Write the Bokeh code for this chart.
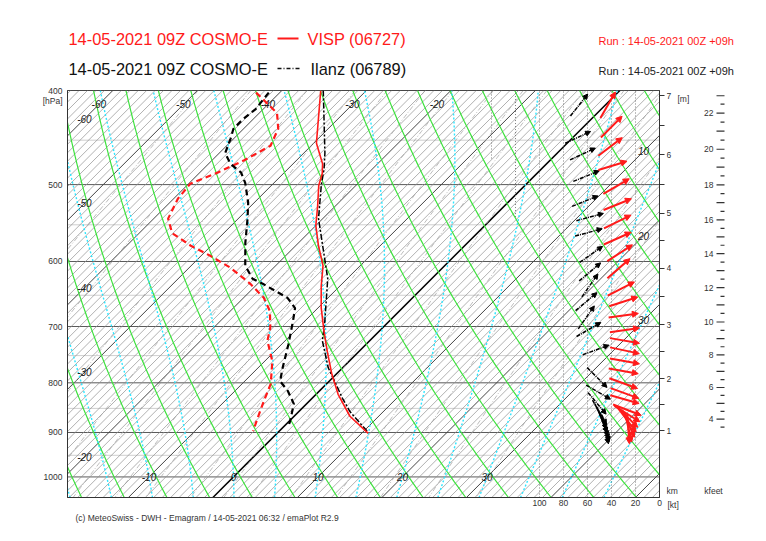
import numpy as np
from bokeh.plotting import figure
from bokeh.models import (Range1d, FixedTicker, CustomJSTickFormatter, LinearAxis,
                          Arrow, NormalHead, ColumnDataSource, Title)
from bokeh.layouts import column, row
from bokeh.embed import file_html
from bokeh.resources import INLINE
from bokeh.core.properties import value

FONT = "Liberation Sans"

# ---------------- data ----------------
p_major = [400, 500, 600, 700, 800, 900, 1000]
p_minor = [450, 550, 650, 750, 850, 950, 1050]

visp_t_p = [400, 428, 453, 458, 476, 487, 501, 526, 551, 578, 606, 636, 670, 707, 742, 784, 822, 866, 902]
visp_t = [-35.4, -32.3, -29.7, -29.0, -26.5, -25.4, -24.4, -22.1, -20.0, -17.3, -14.4, -12.2, -9.6, -6.6,
          -3.8, -0.5, 2.6, 6.6, 10.8]
visp_td_p = [402, 422, 438, 456, 472, 486, 499, 517, 542, 561, 578, 592, 609, 625, 633, 654, 675, 702, 724,
             760, 802, 835, 870, 897]
visp_td = [-42.8, -37.9, -35.9, -34.8, -36.2, -37.9, -39.8, -39.5, -38.3, -36.1, -32.4, -28.9, -25.1, -22.2,
           -20.8, -17.6, -15.3, -13.3, -12.1, -9.1, -6.6, -5.4, -4.1, -3.1]

ilanz_t_p = [400, 464, 481, 501, 542, 574, 625, 696, 724, 772, 802, 830, 856, 882, 897]
ilanz_t = [-35.1, -27.5, -25.8, -24.1, -20.5, -17.2, -12.3, -7.3, -5.6, -1.7, 1.1, 3.6, 6.0, 8.8, 10.4]
ilanz_td_p = [402, 418, 428, 438, 448, 464, 476, 486, 498, 522, 542, 574, 606, 625, 633, 654, 670, 691, 730,
              774, 797, 816, 841, 876, 887]
ilanz_td = [-41.3, -40.9, -41.2, -41.2, -40.4, -39.3, -37.4, -35.1, -33.4, -30.7, -28.9, -26.3, -23.6, -21.2,
            -19.3, -14.8, -12.7, -11.4, -9.2, -7.0, -5.8, -3.7, -1.5, 0.1, 0.5]

# winds: pressure (hPa), speed (kt), direction (deg, from)
visp_w_p = [414, 436, 457, 478, 502, 524, 546, 568, 588, 610, 640, 660, 682, 706, 724, 741, 760, 778, 801,
            820, 832, 853, 861, 867, 874, 881, 889, 892]
visp_w_spd = [43, 40, 41, 39, 36, 35, 35, 35, 33, 34, 32, 30, 30, 29, 29, 29, 29, 30, 30, 29, 29, 27, 27, 27,
              27, 26, 26, 26]
visp_w_dir = [210, 225, 233, 253, 240, 248, 244, 246, 237, 229, 243, 252, 262, 262, 280, 282, 280, 280, 290,
              290, 286, 291, 302, 315, 323, 336, 347, 356]

ilanz_w_p = [414, 447, 465, 490, 520, 540, 560, 590, 615, 635, 660, 685, 705, 740, 790, 818, 840, 858, 866,
             873, 880, 886, 891, 895]
ilanz_w_spd = [67, 68, 64, 61, 62, 58, 59, 57, 58, 58, 61, 61, 59, 53, 52, 51, 52, 50, 49, 48, 47, 46, 45, 45]
ilanz_w_dir = [218, 245, 245, 248, 248, 255, 255, 235, 230, 215, 230, 215, 240, 250, 315, 300, 320, 330, 335,
               338, 340, 342, 345, 348]

kt_ticks = [100, 80, 60, 40, 20, 0]
km_levels = [1, 2, 3, 4, 5, 6, 7]
km_pressure = [896, 792, 697, 610, 535, 466, 405]
kfeet_labels = [4, 6, 8, 10, 12, 14, 16, 18, 20, 22]

# ---------------- geometry ----------------
TOP_H = 84
W_MAIN, H_MAIN = 666, 457
ML, MR, MT, MB = 67, 7, 6, 44
FW = W_MAIN - ML - MR
FH = H_MAIN - MT - MB
P_TOP, P_BOT = 400.0, 1050.0
X_LEFT, X_RIGHT = -19.64, 50.41
PX_X = FW / (X_RIGHT - X_LEFT)
PX_LN = FH / np.log(P_BOT / P_TOP)
K = PX_LN / PX_X
KT_PX = 1.2
FRAME_TOP_PX = TOP_H + MT
P0_THETA = 1013.25


def skx(T, p):
    return np.asarray(T, float) + K * np.log(1000.0 / np.asarray(p, float))


def kt_x(k):
    return X_RIGHT - np.asarray(k, float) * KT_PX / PX_X


def lnp_at(ypx):
    # ln p at a page pixel row, on the main chart's vertical scale
    return np.log(P_TOP) + (ypx - FRAME_TOP_PX) / PX_LN


p = figure(width=W_MAIN, height=H_MAIN, x_range=Range1d(X_LEFT, X_RIGHT),
           y_range=Range1d(np.log(P_BOT), np.log(P_TOP)),
           min_border_left=ML, min_border_right=MR, min_border_top=MT, min_border_bottom=MB,
           output_backend="svg", toolbar_location=None)
p.grid.visible = False
p.outline_line_color = "#333333"
p.background_fill_color = "white"

pc = np.geomspace(P_TOP, P_BOT, 80)
lpc = list(np.log(pc))

# isobars
for pl, col in ((p_minor, "#cfcfcf"), (p_major, "#5a5a5a")):
    p.multi_line([[X_LEFT, X_RIGHT] for _ in pl], [[np.log(v), np.log(v)] for v in pl],
                 line_color=col, line_width=1)

# isotherms
pp = np.array([P_BOT, P_TOP])
iso_all = np.arange(-70, 56, 1)
groups = [([t for t in iso_all if t % 10 != 0], "#8f8f8f", 0.7),
          ([t for t in iso_all if t % 10 == 0 and t != 0], "#444444", 1.0),
          ([0], "#000000", 1.5)]
for Ts, col, lw in groups:
    p.multi_line([list(skx(t, pp)) for t in Ts], [list(np.log(pp)) for _ in Ts],
                 line_color=col, line_width=lw)

# mixing ratio lines
mix_w = [0.1, 0.2, 0.4, 0.7, 1, 1.5, 2, 3, 4, 5, 7, 10, 14, 20, 28]
mx, my = [], []
for w in mix_w:
    e = w * pc / (622.0 + w)
    a = np.log(e / 6.112)
    Td = 243.5 * a / (17.67 - a)
    mx.append(list(skx(Td, pc)))
    my.append(lpc)
p.multi_line(mx, my, line_color="#a0a0a0", line_width=0.7, line_dash="5 2 1 2")

# dry adiabats
dx_, dy_ = [], []
for th in range(245, 381, 5):
    T = th * (pc / P0_THETA) ** 0.2857 - 273.15
    dx_.append(list(skx(T, pc)))
    dy_.append(lpc)
p.multi_line(dx_, dy_, line_color="#3ee23e", line_width=1.2)


# moist adiabats
def f_moist(T, lnp):
    pr = np.exp(lnp)
    Tc = T - 273.15
    es = 6.112 * np.exp(17.67 * Tc / (Tc + 243.5))
    rs = 0.622 * es / (pr - es)
    return (287.04 * T + 2.501e6 * rs) / (1005.7 + 2.501e6 ** 2 * rs * 0.622 / (287.04 * T * T))


def moist(T0):
    parts = []
    for target, n in ((np.log(P_TOP), 150), (np.log(P_BOT), 12)):
        T = T0 + 273.15
        l = np.log(1000.0)
        h = (target - l) / n
        ls, Ts = [l], [T]
        for _ in range(n):
            k1 = f_moist(T, l)
            k2 = f_moist(T + 0.5 * h * k1, l + 0.5 * h)
            T = T + h * k2
            l = l + h
            ls.append(l)
            Ts.append(T)
        parts.append((np.array(ls), np.array(Ts) - 273.15))
    (lu, tu), (ld, td) = parts
    return np.concatenate([ld[::-1], lu[1:]]), np.concatenate([td[::-1], tu[1:]])


wx, wy = [], []
for T0 in range(-40, 46, 5):
    L, Tt = moist(T0)
    wx.append(list(skx(Tt, np.exp(L))))
    wy.append(list(L))
p.multi_line(wx, wy, line_color="#2ee6ff", line_width=1.4, line_dash="2 2")

# wind speed grid
for k in [20, 40, 60, 80, 100]:
    p.line([kt_x(k), kt_x(k)], [np.log(P_BOT), np.log(P_TOP)], line_color="#707070",
           line_width=0.9, line_dash="1 2")
for k, pend in ((120, 540), (140, 470)):
    p.line([kt_x(k), kt_x(k)], [np.log(pend), np.log(P_TOP)], line_color="#707070",
           line_width=0.9, line_dash="1 2")

# isotherm labels
lab_style = dict(text_font=value(FONT), text_font_size="10px", text_font_style="italic",
                 text_color="#222222", text_align="center", text_baseline="middle")
bt = [-10, 0, 10, 20, 30]
p.text(x=list(skx(bt, [1000] * len(bt))), y=[np.log(1000)] * len(bt), text=[str(t) for t in bt], **lab_style)
tt = [-60, -50, -40, -30, -20]
ptop_lab = 413.5
p.text(x=list(skx(tt, [ptop_lab] * len(tt))), y=[np.log(ptop_lab)] * len(tt), text=[str(t) for t in tt],
       **lab_style)
lt = [-60, -50, -40, -30, -20]
xl = X_LEFT + 2.0
pl_ = [1000.0 / np.exp((xl - t) / K) for t in lt]
p.text(x=[xl] * len(lt), y=list(np.log(pl_)), text=[str(t) for t in lt], **lab_style)
rt = [10, 20, 30]
xr = X_RIGHT - 1.9
pr_ = [1000.0 / np.exp((xr - t) / K) for t in rt]
p.text(x=[xr] * len(rt), y=list(np.log(pr_)), text=[str(t) for t in rt], **lab_style)

# profiles
p.line(skx(visp_td, visp_td_p), np.log(visp_td_p), line_color="#ff1a1a", line_width=2.2, line_dash="6 4")
p.line(skx(ilanz_td, ilanz_td_p), np.log(ilanz_td_p), line_color="#000000", line_width=2.2, line_dash="6 4")
p.line(skx(ilanz_t, ilanz_t_p), np.log(ilanz_t_p), line_color="#000000", line_width=1.5, line_dash="6 2 2 2")
p.line(skx(visp_t, visp_t_p), np.log(visp_t_p), line_color="#ff1a1a", line_width=1.6)


# wind arrows
def arrow_src(wp, spd, wd, length_px=30.0):
    wp = np.asarray(wp, float)
    cx = kt_x(spd)
    cy = np.log(wp)
    a = np.radians(270.0 - np.asarray(wd, float))
    dxh = 0.5 * length_px * np.cos(a) / PX_X
    dyh = 0.5 * length_px * np.sin(a) / PX_LN
    return ColumnDataSource(dict(x0=cx - dxh, y0=cy + dyh, x1=cx + dxh, y1=cy - dyh))


p.add_layout(Arrow(source=arrow_src(ilanz_w_p, ilanz_w_spd, ilanz_w_dir, 28),
                   x_start="x0", y_start="y0", x_end="x1", y_end="y1",
                   line_color="black", line_width=1.5, line_dash="4 1 1 1",
                   end=NormalHead(size=5, fill_color="black", line_color="black", line_width=1)))
p.add_layout(Arrow(source=arrow_src(visp_w_p, visp_w_spd, visp_w_dir, 30),
                   x_start="x0", y_start="y0", x_end="x1", y_end="y1",
                   line_color="#ff1a1a", line_width=2,
                   end=NormalHead(size=6, fill_color="#ff1a1a", line_color="#ff1a1a", line_width=1)))

# axes
ax_style = dict(major_label_text_font=FONT, major_label_text_font_size="8.5px",
                major_label_text_color="#333333")
hpa_tick = float(lnp_at(100))
p.yaxis.ticker = FixedTicker(ticks=list(np.log(p_major)) + [hpa_tick])
p.yaxis.formatter = CustomJSTickFormatter(args=dict(h=hpa_tick),
    code="if (Math.abs(tick - h) < 1e-6) { return '[hPa]'; } return String(Math.round(Math.exp(tick)));")
p.yaxis.major_tick_out = 0
p.yaxis.major_tick_in = 0
p.yaxis.minor_tick_out = 0
p.yaxis.minor_tick_in = 0
p.yaxis.major_label_standoff = 5
p.yaxis.axis_line_color = "#333333"
for k_, v_ in ax_style.items():
    setattr(p.yaxis[0], k_, v_)

p.xaxis.ticker = FixedTicker(ticks=list(kt_x(kt_ticks)))
p.xaxis.formatter = CustomJSTickFormatter(args=dict(xr=X_RIGHT, s=KT_PX / PX_X),
                                          code="return String(Math.round((xr - tick)/s));")
p.xaxis.major_tick_out = 0
p.xaxis.major_tick_in = 0
p.xaxis.minor_tick_out = 0
p.xaxis.minor_tick_in = 0
p.xaxis.major_label_standoff = 2
p.xaxis.axis_line_color = "#333333"
for k_, v_ in ax_style.items():
    setattr(p.xaxis[0], k_, v_)

# height (km) tick marks on the right edge
km_ln = list(np.log(km_pressure))
km_marks = [float(np.interp(v, km_levels, km_ln)) for v in np.arange(1.0, 7.01, 0.5)]
kax = LinearAxis(ticker=FixedTicker(ticks=[], minor_ticks=km_marks),
                 major_tick_out=0, major_tick_in=0, minor_tick_out=5, minor_tick_in=0,
                 major_label_standoff=0, axis_line_color="#333333", minor_tick_line_color="#333333")
p.add_layout(kax, "right")

p.add_layout(Title(text="(c) MeteoSwiss - DWH - Emagram / 14-05-2021 06:32 / emaPlot R2.9",
                   align="left", offset=8, standoff=4, text_font=FONT, text_font_size="8.5px",
                   text_font_style="normal", text_color="#333333"), "below")

# ---------------- right-hand height scales ----------------
W2 = 766 - W_MAIN
p2 = figure(width=W2, height=H_MAIN, x_range=Range1d(0, W2),
            y_range=Range1d(np.log(P_BOT), np.log(P_TOP)),
            min_border_left=0, min_border_right=0, min_border_top=MT, min_border_bottom=MB,
            x_axis_location=None, y_axis_location=None, output_backend="svg", toolbar_location=None)
p2.grid.visible = False
p2.outline_line_color = None
small = dict(text_font=value(FONT), text_font_size="8.5px", text_color="#333333", text_baseline="middle")
p2.text(x=[0] * len(km_levels), y=km_ln, text=[str(k) for k in km_levels], text_align="left", **small)
p2.text(x=[11], y=[float(lnp_at(98))], text=["[m]"], text_align="left", **small)
p2.text(x=[0], y=[float(lnp_at(490))], text=["km"], text_align="left", **small)
p2.add_layout(Title(text="[kt]", align="left", offset=1, standoff=0, text_font=FONT, text_font_size="8.5px",
                    text_font_style="normal", text_color="#333333"), "below")

kf_all = np.arange(3.5, 23.01, 0.5)
kf_y = [float(np.interp(v * 0.3048, km_levels, km_ln)) for v in kf_all]
x0s = [50 if abs(v - round(v)) < 1e-6 else 54 for v in kf_all]
p2.segment(x0=x0s, y0=kf_y, x1=[58] * len(kf_all), y1=kf_y, line_color="#333333", line_width=1.2)
lab_y = [float(np.interp(v * 0.3048, km_levels, km_ln)) for v in kfeet_labels]
p2.text(x=[47] * len(kfeet_labels), y=lab_y, text=[str(v) for v in kfeet_labels], text_align="right", **small)
p2.text(x=[47], y=[float(lnp_at(490))], text=["kfeet"], text_align="center", **small)

# ---------------- title area ----------------
top = figure(width=766, height=TOP_H, x_range=Range1d(0, 766), y_range=Range1d(TOP_H, 0), min_border=0,
             x_axis_location=None, y_axis_location=None, output_backend="svg", toolbar_location=None)
top.grid.visible = False
top.outline_line_color = None
tstyle = dict(text_font=value(FONT), text_font_size="16.4px", text_baseline="middle", text_align="left")
top.text(x=[68, 307], y=[38, 38], text=["14-05-2021 09Z COSMO-E", "VISP (06727)"], text_color="#ff1a1a",
         **tstyle)
top.text(x=[68, 310], y=[68, 68], text=["14-05-2021 09Z COSMO-E", "Ilanz (06789)"], text_color="#111111",
         **tstyle)
top.line([277, 298], [38, 38], line_color="#ff1a1a", line_width=2)
top.line([277, 300], [68, 68], line_color="#111111", line_width=1.5, line_dash="4 2 1 2")
rstyle = dict(text_font=value(FONT), text_font_size="11px", text_baseline="middle", text_align="left")
top.text(x=[598], y=[40], text=["Run : 14-05-2021 00Z +09h"], text_color="#ff1a1a", **rstyle)
top.text(x=[598], y=[70], text=["Run : 14-05-2021 00Z +09h"], text_color="#222222", **rstyle)

layout = column(top, row(p, p2))
open("out.html", "w").write(file_html(layout, INLINE))
